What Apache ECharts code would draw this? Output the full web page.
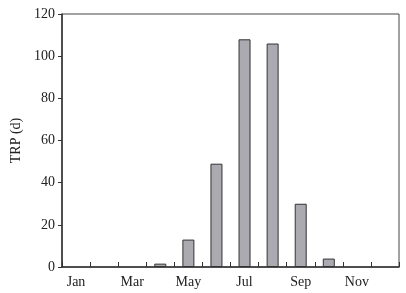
<!DOCTYPE html>
<html>
<head>
<meta charset="utf-8">
<script src="https://cdn.jsdelivr.net/npm/echarts@6/dist/echarts.min.js"></script>
<style>
	html, body { margin: 0; padding: 0; background: #fff; }
	#chart { width: 406px; height: 293px; }
</style>
</head>
<body>
<div id="chart"></div>
<script>
var months = ['Jan', 'Feb', 'Mar', 'Apr', 'May', 'Jun', 'Jul', 'Aug', 'Sep', 'Oct', 'Nov', 'Dec'];
var trpValues = [0, 0, 0, 1.6, 13, 49, 108, 106, 30, 4, 0, 0];
var yTicks = [0, 20, 40, 60, 80, 100, 120];

var chart = echarts.init(document.getElementById('chart'));
var font = '"Liberation Serif", "DejaVu Serif", serif';
// zero months have no bar drawn at all
var barData = trpValues.map(function(v){ return v === 0 ? '-' : v; });
var option = {
	animation: false,
	grid: {
		left: 62,
		right: 7,
		top: 14,
		bottom: 26,
		show: true,
		borderColor: '#444',
		borderWidth: 1
	},
	xAxis: {
		type: 'category',
		data: months,
		boundaryGap: true,
		axisLine: { show: true, lineStyle: { color: '#333', width: 1.5 } },
		axisTick: { show: true, inside: true, interval: 0, length: 5, lineStyle: { color: '#333', width: 1 } },
		axisLabel: {
			interval: 1,
			color: '#222',
			fontFamily: font,
			fontSize: 14,
			margin: 8
		}
	},
	yAxis: {
		type: 'value',
		min: yTicks[0],
		max: yTicks[yTicks.length - 1],
		interval: 20,
		name: 'TRP (d)',
		nameLocation: 'middle',
		nameGap: 36,
		nameRotate: 90,
		nameTextStyle: { color: '#222', fontFamily: font, fontSize: 14 },
		axisLine: { show: true, lineStyle: { color: '#333', width: 1.5 } },
		axisTick: { show: true, length: 4, lineStyle: { color: '#333' } },
		splitLine: { show: false },
		axisLabel: { color: '#222', fontFamily: font, fontSize: 14, margin: 7 }
	},
	series: [{
		type: 'bar',
		data: barData,
		barWidth: 12,
		itemStyle: { color: '#aaaab0', borderColor: '#333', borderWidth: 1 }
	}]
};
chart.setOption(option);
</script>
</body>
</html>
